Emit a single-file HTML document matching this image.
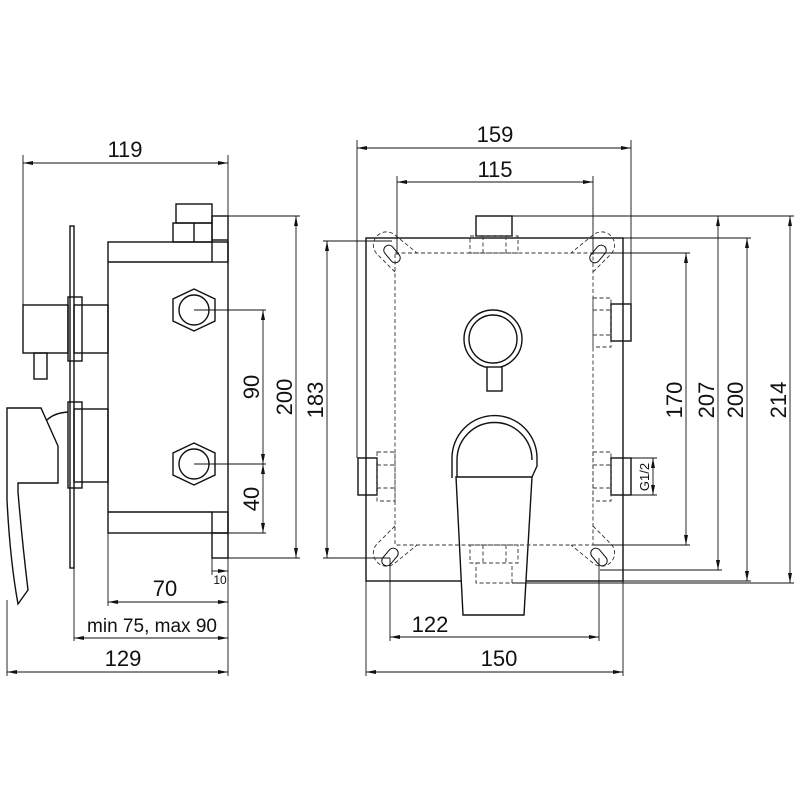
<!DOCTYPE html>
<html><head><meta charset="utf-8"><style>
html,body{margin:0;padding:0;background:#fff}
svg{display:block}
text{font-family:"Liberation Sans",sans-serif;fill:#111}
</style></head><body>
<svg width="800" height="800" viewBox="0 0 800 800" xmlns="http://www.w3.org/2000/svg">
<defs>
<marker id="a" viewBox="0 0 10 4" refX="10" refY="2" markerWidth="10" markerHeight="4" orient="auto-start-reverse" markerUnits="userSpaceOnUse"><path d="M0,0 L10,2 L0,4 Z" fill="#111"/></marker>
</defs>
<g fill="none" stroke="#111" stroke-width="1.4">
<!-- LEFT VIEW -->
<rect x="108" y="242" width="120" height="291"/>
<line x1="108" y1="262" x2="212" y2="262"/>
<line x1="108" y1="512" x2="212" y2="512"/>
<rect x="176" y="204" width="36" height="19"/>
<rect x="173" y="223" width="39" height="19"/>
<line x1="194" y1="223" x2="194" y2="242"/>
<rect x="212" y="216" width="16" height="46"/>
<line x1="212" y1="240" x2="228" y2="240"/>
<rect x="212" y="512" width="16" height="46"/>
<line x1="212" y1="533" x2="228" y2="533"/>
<polygon points="194,289 215,299 215,321 194,331 173,321 173,299"/>
<circle cx="194" cy="310" r="15"/>
<polygon points="194,443 215,453 215,475 194,485 173,475 173,453"/>
<circle cx="194" cy="464" r="15"/>
<rect x="70" y="226" width="4" height="342"/>
<rect x="74" y="305" width="34" height="48"/>
<rect x="68" y="297" width="14" height="64"/>
<rect x="23" y="305" width="45" height="48"/>
<rect x="34" y="353" width="13" height="26"/>
<rect x="74" y="409" width="34" height="73"/>
<rect x="68" y="402" width="14" height="86"/>
<path d="M68,412 Q54,413 47,420"/>
<path d="M7,408 L41,408 L58,446 L58,483 L18,483 L18,492 Q22,540 28,590 L18,604 Q10,560 7,500 Z"/>
</g>
<g fill="none" stroke="#111" stroke-width="0.9">
<!-- left dims -->
<line x1="23" y1="155" x2="23" y2="305"/>
<line x1="228" y1="155" x2="228" y2="676"/>
<line x1="23" y1="163" x2="228" y2="163" marker-start="url(#a)" marker-end="url(#a)"/>
<line x1="228" y1="216" x2="300" y2="216"/>
<line x1="228" y1="558" x2="300" y2="558"/>
<line x1="296" y1="216" x2="296" y2="558" marker-start="url(#a)" marker-end="url(#a)"/>
<line x1="194" y1="310" x2="266" y2="310"/>
<line x1="194" y1="464" x2="266" y2="464"/>
<line x1="228" y1="533" x2="266" y2="533"/>
<line x1="263" y1="310" x2="263" y2="464" marker-start="url(#a)" marker-end="url(#a)"/>
<line x1="263" y1="464" x2="263" y2="533" marker-start="url(#a)" marker-end="url(#a)"/>
<line x1="108" y1="533" x2="108" y2="606"/>
<line x1="108" y1="602" x2="228" y2="602" marker-start="url(#a)" marker-end="url(#a)"/>
<line x1="212" y1="558" x2="212" y2="575"/>
<line x1="212" y1="571" x2="228" y2="571" marker-end="url(#a)"/>
<line x1="74" y1="568" x2="74" y2="641"/>
<line x1="74" y1="638" x2="228" y2="638" marker-start="url(#a)" marker-end="url(#a)"/>
<line x1="7" y1="600" x2="7" y2="676"/>
<line x1="7" y1="672" x2="228" y2="672" marker-start="url(#a)" marker-end="url(#a)"/>
</g>
<g fill="none" stroke="#111" stroke-width="1.4">
<!-- RIGHT VIEW -->
<rect x="366" y="238" width="257" height="343"/>
<rect x="476" y="216" width="36" height="20"/>
<rect x="611" y="304" width="20" height="37"/>
<rect x="358" y="458" width="19" height="37"/>
<rect x="611" y="458" width="20" height="37"/>
<circle cx="493" cy="339" r="29"/>
<circle cx="493" cy="339" r="24"/>
<rect x="487" y="367" width="15" height="24" fill="#fff"/>
<path d="M452,478 L452,458 A42,42 0 0 1 537,458 L537,466 L532,477"/>
<path d="M457,478 L457,460 A37,37 0 0 1 532,460"/>
<polygon points="456,477 532,477 524,615 463,615" fill="#fff"/>
</g>
<g fill="none" stroke="#333" stroke-width="0.9" stroke-dasharray="4,2.5">
<path d="M395,253 H593 V545 H395 Z"/>
<rect x="470" y="236" width="48" height="17"/>
<line x1="483" y1="236" x2="483" y2="253"/><line x1="506" y1="236" x2="506" y2="253"/>
<rect x="470" y="545" width="48" height="18"/>
<line x1="483" y1="545" x2="483" y2="563"/><line x1="506" y1="545" x2="506" y2="563"/>
<rect x="476" y="563" width="36" height="20"/>
<rect x="593" y="298" width="18" height="49"/>
<line x1="593" y1="310" x2="611" y2="310"/><line x1="593" y1="335" x2="611" y2="335"/>
<rect x="377" y="452" width="18" height="49"/>
<line x1="377" y1="465" x2="395" y2="465"/><line x1="377" y1="488" x2="395" y2="488"/>
<rect x="593" y="452" width="18" height="49"/>
<line x1="593" y1="465" x2="611" y2="465"/><line x1="593" y1="488" x2="611" y2="488"/>
<!-- ears -->
<path d="M395,272 L378,255 A12,12 0 0 1 395,235 L417,253"/>
<path d="M593,272 L610,255 A12,12 0 0 0 593,235 L571,253"/>
<path d="M395,526 L378,543 A12,12 0 0 0 395,563 L417,545"/>
<path d="M593,526 L610,543 A12,12 0 0 1 593,563 L571,545"/>
</g>
<g fill="none" stroke="#111" stroke-width="1">
<rect x="387" y="244" width="10" height="20" rx="5" transform="rotate(-40 392 254)"/>
<rect x="593" y="244" width="10" height="20" rx="5" transform="rotate(40 598 254)"/>
<rect x="385" y="547" width="10" height="20" rx="5" transform="rotate(40 390 557)"/>
<rect x="594" y="547" width="10" height="20" rx="5" transform="rotate(-40 599 557)"/>
</g>
<g fill="none" stroke="#111" stroke-width="0.9">
<!-- right dims -->
<line x1="357" y1="140" x2="357" y2="458"/>
<line x1="631" y1="140" x2="631" y2="304"/>
<line x1="357" y1="148" x2="631" y2="148" marker-start="url(#a)" marker-end="url(#a)"/>
<line x1="397" y1="176" x2="397" y2="255"/>
<line x1="593" y1="176" x2="593" y2="255"/>
<line x1="397" y1="182" x2="593" y2="182" marker-start="url(#a)" marker-end="url(#a)"/>
<line x1="323" y1="241" x2="392" y2="241"/>
<line x1="323" y1="558" x2="390" y2="558"/>
<line x1="327" y1="241" x2="327" y2="558" marker-start="url(#a)" marker-end="url(#a)"/>
<line x1="512" y1="216" x2="794" y2="216"/>
<line x1="623" y1="238" x2="751" y2="238"/>
<line x1="593" y1="253" x2="690" y2="253"/>
<line x1="593" y1="545" x2="690" y2="545"/>
<line x1="600" y1="570" x2="722" y2="570"/>
<line x1="623" y1="581" x2="751" y2="581"/>
<line x1="512" y1="583" x2="794" y2="583"/>
<line x1="686" y1="253" x2="686" y2="545" marker-start="url(#a)" marker-end="url(#a)"/>
<line x1="718" y1="216" x2="718" y2="570" marker-start="url(#a)" marker-end="url(#a)"/>
<line x1="747" y1="238" x2="747" y2="581" marker-start="url(#a)" marker-end="url(#a)"/>
<line x1="790" y1="216" x2="790" y2="583" marker-start="url(#a)" marker-end="url(#a)"/>
<line x1="631" y1="458" x2="657" y2="458"/>
<line x1="631" y1="495" x2="657" y2="495"/>
<line x1="653" y1="458" x2="653" y2="495" marker-start="url(#a)" marker-end="url(#a)"/>
<line x1="390" y1="558" x2="390" y2="641"/>
<line x1="599" y1="558" x2="599" y2="641"/>
<line x1="390" y1="637" x2="599" y2="637" marker-start="url(#a)" marker-end="url(#a)"/>
<line x1="366" y1="581" x2="366" y2="676"/>
<line x1="623" y1="581" x2="623" y2="676"/>
<line x1="366" y1="672" x2="623" y2="672" marker-start="url(#a)" marker-end="url(#a)"/>
</g>
<!-- text -->
<g font-size="22">
<text x="125" y="157" text-anchor="middle">119</text>
<text x="495" y="142" text-anchor="middle">159</text>
<text x="495" y="177" text-anchor="middle">115</text>
<text x="165" y="596" text-anchor="middle">70</text>
<text x="152" y="632" text-anchor="middle" font-size="19" textLength="130" lengthAdjust="spacingAndGlyphs">min 75, max 90</text>
<text x="123" y="666" text-anchor="middle">129</text>
<text x="430" y="632" text-anchor="middle">122</text>
<text x="499" y="666" text-anchor="middle">150</text>
<text transform="translate(259,387) rotate(-90)" text-anchor="middle">90</text>
<text transform="translate(259,499) rotate(-90)" text-anchor="middle">40</text>
<text transform="translate(292,397) rotate(-90)" text-anchor="middle">200</text>
<text transform="translate(323,400) rotate(-90)" text-anchor="middle">183</text>
<text transform="translate(682,400) rotate(-90)" text-anchor="middle">170</text>
<text transform="translate(714,400) rotate(-90)" text-anchor="middle">207</text>
<text transform="translate(743,400) rotate(-90)" text-anchor="middle">200</text>
<text transform="translate(786,400) rotate(-90)" text-anchor="middle">214</text>
</g>
<text x="220" y="584" text-anchor="middle" font-size="12">10</text>
<text transform="translate(649,477) rotate(-90)" text-anchor="middle" font-size="13">G1/2</text>
</svg>
</body></html>
